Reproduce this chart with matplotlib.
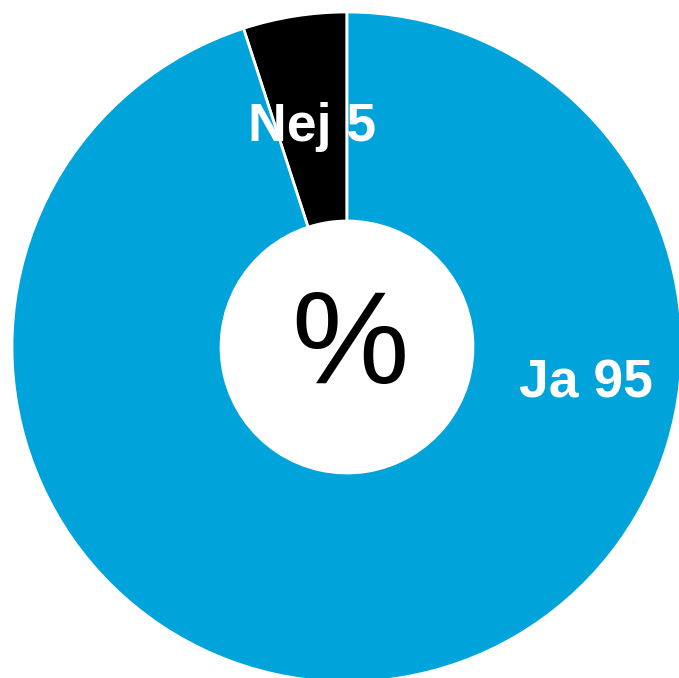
import matplotlib
matplotlib.use('Agg')
import matplotlib.pyplot as plt

labels = ['Nej', 'Ja']
values = [5, 95]
colors = ['#000000', '#00A3DA']

W, H = 679, 678
cx, cy, R = 347, 347, 335

fig = plt.figure(figsize=(W / 100, H / 100), dpi=100)
ax = fig.add_axes([0, 0, 1, 1])

wedges, _ = ax.pie(values, colors=colors, startangle=90, counterclock=True,
                   radius=1, wedgeprops=dict(width=1 - 126 / R, edgecolor='white', linewidth=2))

ax.set_xlim(-cx / R, (W - cx) / R)
ax.set_ylim(-(H - cy) / R, cy / R)
ax.set_aspect('auto')
ax.axis('off')

# label positions in pixels (from top-left), baseline
pos = [(312, 141), (586, 397)]
for lab, v, (px, py) in zip(labels, values, pos):
    ax.text((px - cx) / R, (cy - py) / R, f'{lab} {v}', color='white', fontsize=38.5,
            fontweight='bold', family='Liberation Sans', ha='center', va='baseline')

ax.text((350 - cx) / R, (cy - 349) / R, '%', fontsize=95, family='Liberation Sans',
        ha='center', va='center', color='black')

fig.savefig('out.png', dpi=100)
